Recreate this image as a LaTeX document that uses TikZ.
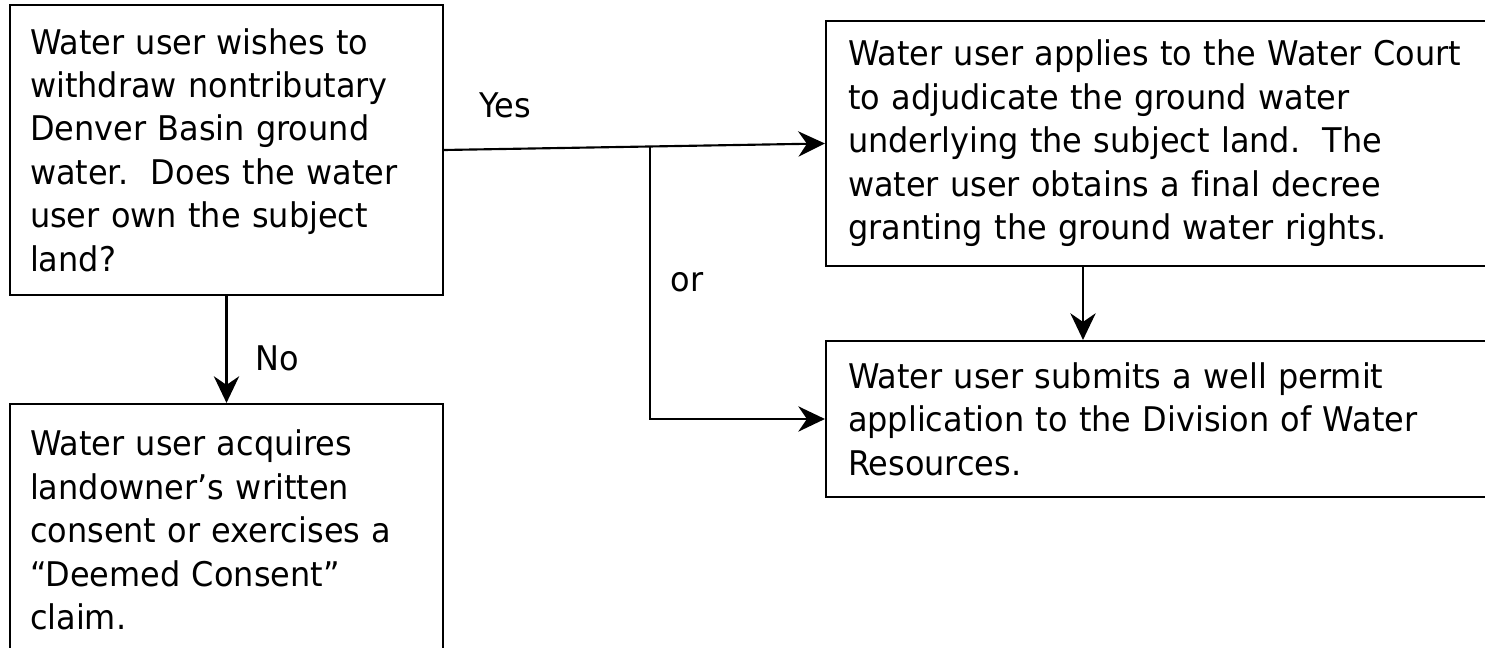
\documentclass[tikz,border=0pt]{standalone}
\usepackage{fontspec}
\setmainfont[FakeStretch=0.94,Ligatures=NoCommon]{DejaVu Sans}
\usetikzlibrary{arrows.meta,calc}
\begin{document}
\begin{tikzpicture}[x=0.75pt,y=-0.75pt,
  box/.style={draw,line width=1.6pt,rectangle,inner sep=0pt,align=left,
    font=\fontsize{25.5pt}{32.6pt}\selectfont},
  lbl/.style={inner sep=0pt,font=\fontsize{25.5pt}{32.6pt}\selectfont},
  arr/.style={line width=1.6pt,-{Stealth[length=20pt,width=19pt,inset=6.5pt]}},
  ln/.style={line width=1.6pt}]
\useasboundingbox (0,0) rectangle (1485,648);
\clip (0,0) rectangle (1485,648);
\fill[white] (0,0) rectangle (1485,648);
\node[box,minimum width=324.75pt,minimum height=217.5pt,text width=294.75pt] (b1) at (226.5,150)
 {Water user wishes to\\withdraw nontributary\\Denver Basin ground\\water.\ \ Does the water\\user own the subject\\land?};
\node[box,minimum width=324.75pt,minimum height=189pt,text width=294.75pt] (b2) at (226.5,530)
 {Water user acquires\\landowner’s written\\consent or exercises a\\“Deemed Consent”\\claim.};
\node[box,minimum width=520.5pt,minimum height=183.75pt,text width=487.5pt] (b3) at (1173,143.5)
 {Water user applies to the Water Court\\to adjudicate the ground water\\underlying the subject land.\ \ The\\water user obtains a final decree\\granting the ground water rights.};
\node[box,minimum width=520.5pt,minimum height=117pt,text width=487.5pt] (b4) at (1173,419)
 {Water user submits a well permit\\application to the Division of Water\\Resources.};
\draw[arr] (b1.east) -- (b3.west);
\coordinate (j) at ($(b1.east)!0.5405!(b3.west)$);
\draw[arr] (j) |- (b4.west);
\draw[arr] (b1.south) -- (b2.north);
\draw[arr] ([xshift=-67.5pt]b3.south) -- ([xshift=-67.5pt]b4.north);
\node[lbl] (yes) at (505,105) {Yes};
\node[lbl] (or) at (687,282) {or};
\node[lbl] (no) at (277,358) {No};
\end{tikzpicture}
\end{document}
